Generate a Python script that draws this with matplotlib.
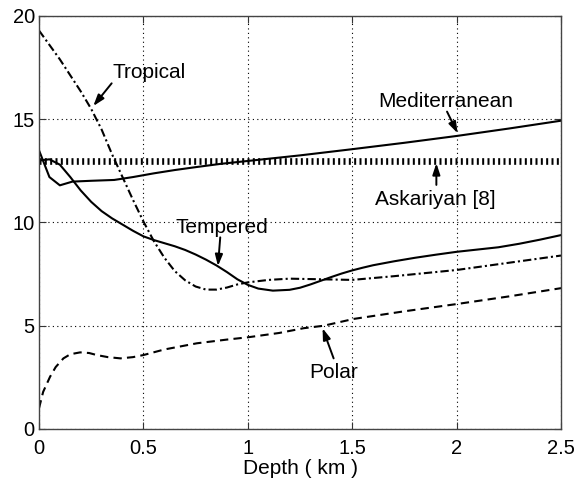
import matplotlib
matplotlib.use("Agg")
import matplotlib.pyplot as plt

plt.rcParams['font.family'] = ['Liberation Sans', 'DejaVu Sans']

# Sound-speed-like profiles versus depth for several sea types
depth_med = [0, 0.05, 0.1, 0.16, 0.25, 0.36, 0.45, 0.55, 0.65, 0.75, 0.87, 1.0,
             1.25, 1.5, 1.75, 2.0, 2.25, 2.5]
mediterranean = [13.5, 12.2, 11.8, 11.98, 12.02, 12.06, 12.2, 12.38, 12.54, 12.68,
                 12.84, 12.98, 13.25, 13.55, 13.86, 14.19, 14.55, 14.93]

depth_temp = [0, 0.05, 0.1, 0.15, 0.2, 0.25, 0.3, 0.35, 0.4, 0.45, 0.5, 0.55, 0.6,
              0.65, 0.7, 0.75, 0.8, 0.85, 0.9, 0.95, 1.0, 1.05, 1.12, 1.2, 1.25,
              1.3, 1.35, 1.4, 1.45, 1.5, 1.55, 1.6, 1.7, 1.8, 1.9, 2.0, 2.1, 2.2,
              2.3, 2.4, 2.5]
tempered = [13.0, 13.06, 12.8, 12.2, 11.55, 11.0, 10.55, 10.2, 9.9, 9.6, 9.33,
            9.15, 9.0, 8.85, 8.67, 8.45, 8.2, 7.92, 7.6, 7.25, 6.98, 6.8, 6.70,
            6.74, 6.84, 7.0, 7.18, 7.36, 7.53, 7.68, 7.81, 7.93, 8.12, 8.29, 8.44,
            8.58, 8.69, 8.8, 8.97, 9.17, 9.39]

depth_trop = [0, 0.1, 0.2, 0.25, 0.3, 0.35, 0.4, 0.45, 0.5, 0.55, 0.6, 0.65, 0.7,
              0.75, 0.8, 0.85, 0.9, 0.95, 1.0, 1.1, 1.2, 1.35, 1.5, 1.7, 2.0, 2.25,
              2.5]
tropical = [19.3, 17.9, 16.35, 15.5, 14.5, 13.3, 12.2, 11.1, 10.05, 9.1, 8.3,
            7.65, 7.2, 6.9, 6.75, 6.75, 6.85, 7.0, 7.1, 7.22, 7.28, 7.25, 7.22,
            7.4, 7.7, 8.05, 8.4]

depth_polar = [0, 0.02, 0.053, 0.08, 0.117, 0.15, 0.197, 0.24, 0.277, 0.33, 0.39,
               0.45, 0.5, 0.6, 0.756, 0.9, 1.0, 1.15, 1.267, 1.363, 1.507, 1.75,
               2.0, 2.25, 2.5]
polar = [1.0, 1.8, 2.53, 3.0, 3.42, 3.62, 3.71, 3.68, 3.58, 3.48, 3.42, 3.48,
         3.58, 3.85, 4.15, 4.33, 4.44, 4.65, 4.88, 5.0, 5.33, 5.7, 6.05, 6.42, 6.82]

depth_ask = [0, 2.5]
askariyan = [13.0, 13.0]

x_ticks = [0, 0.5, 1, 1.5, 2, 2.5]
x_tick_labels = ['0', '0.5', '1', '1.5', '2', '2.5']
y_ticks = [0, 5, 10, 15, 20]
y_tick_labels = ['0', '5', '10', '15', '20']

fig = plt.figure(figsize=(5.75, 4.79), dpi=100)
ax = fig.add_axes([0.0678, 0.1044, 0.9079, 0.8622])

ax.plot(depth_ask, askariyan, color='black', lw=4.8, dashes=(0.3, 0.5),
        solid_capstyle='butt', dash_capstyle='butt')
ax.plot(depth_med, mediterranean, color='black', lw=1.5)
ax.plot(depth_temp, tempered, color='black', lw=1.5)
ax.plot(depth_trop, tropical, color='black', lw=1.5, dashes=(4, 1.5, 1, 1.5))
ax.plot(depth_polar, polar, color='black', lw=1.5, dashes=(4, 2.5))

ax.set_xlim(0, 2.5)
ax.set_ylim(0, 20)
ax.set_xticks(x_ticks)
ax.set_xticklabels(x_tick_labels)
ax.set_yticks(y_ticks)
ax.set_yticklabels(y_tick_labels)
ax.grid(True, color='black', linestyle=(0, (1, 3)), lw=0.8)
ax.tick_params(direction='in', length=5, width=0.8, top=True, right=True,
               labelsize=14.5, colors='#333333', labelcolor='black')
ax.tick_params(axis='x', pad=7)
ax.tick_params(axis='y', pad=3)
for sp in ax.spines.values():
    sp.set_color('#444444')
    sp.set_linewidth(1.0)

ax.set_xlabel('Depth ( km )', fontsize=15, labelpad=1)

arrow = dict(arrowstyle='-|>,head_length=0.45,head_width=0.15', color='black',
             lw=1.4, shrinkA=0, shrinkB=0, mutation_scale=15)
notes = [
    ('Tropical', (0.528, 16.98), (0.348, 16.74), (0.26, 15.64)),
    ('Mediterranean', (1.95, 15.61), (1.954, 15.37), (2.005, 14.32)),
    ('Askariyan [8]', (1.90, 10.85), (1.903, 11.82), (1.903, 12.87)),
    ('Tempered', (0.876, 9.51), (0.868, 9.28), (0.857, 7.89)),
    ('Polar', (1.409, 2.45), (1.411, 3.42), (1.358, 4.88)),
]
for label, txt, tail, head in notes:
    ax.text(txt[0], txt[1], label, fontsize=15, ha='center', va='baseline')
    ax.annotate('', xy=head, xytext=tail, arrowprops=arrow)

fig.savefig('out.png', dpi=100)
